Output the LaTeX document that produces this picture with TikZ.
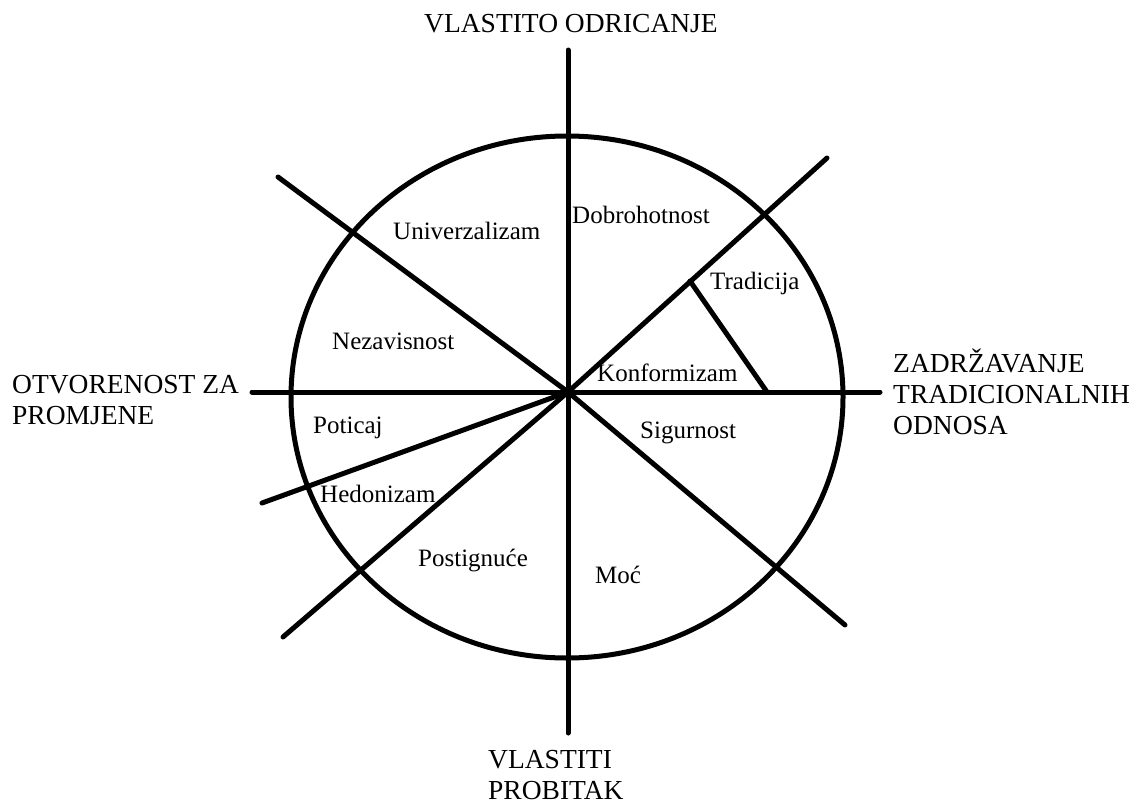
\documentclass[tikz,border=0pt]{standalone}
\usepackage{fontspec}
\setmainfont{Liberation Serif}
\begin{document}
\begin{tikzpicture}[x=1pt,y=-1pt,
  axis/.style={line width=5pt,line cap=round,black},
  lbl/.style={anchor=base west,inner sep=0pt,font=\fontsize{25}{31}\selectfont},
  blk/.style={anchor=base west,inner sep=0pt,align=left,font=\fontsize{27.5}{31}\selectfont}]
\useasboundingbox (0,0) rectangle (1135,803);
% centre and end points
\coordinate (O) at (568,392);
\coordinate (N) at (568,50);
\coordinate (S) at (568,733);
\coordinate (W) at (252,392);
\coordinate (E) at (880,392);
\coordinate (NW) at (278,177);
\coordinate (SE) at (845,625);
\coordinate (NE) at (827,158);
\coordinate (SW) at (283,637);
\coordinate (WSW) at (262,503);
\coordinate (T1) at (690,281);
\coordinate (T2) at (767,392);
% circle
\draw[line width=5pt] (567,397) ellipse [x radius=276, y radius=261];
% axes
\draw[axis] (N) -- (S);
\draw[axis] (W) -- (E);
\draw[axis] (O) -- (NW);
\draw[axis] (O) -- (SE);
\draw[axis] (O) -- (NE);
\draw[axis] (O) -- (SW);
\draw[axis] (O) -- (WSW);
\draw[axis] (T1) -- (T2);
% outer labels
\node[anchor=base,inner sep=0pt,font=\fontsize{27.5}{31}\selectfont] (top) at (571,32) {VLASTITO ODRICANJE};
\node[blk] (left) at (12,424) {OTVORENOST ZA\\PROMJENE};
\node[blk] (right) at (893,434) {ZADRŽAVANJE\\TRADICIONALNIH\\ODNOSA};
\node[blk] (bottom) at (488,799) {VLASTITI\\PROBITAK};
% sector labels
\node[lbl] (uni) at (393,239) {Univerzalizam};
\node[lbl] (dob) at (572,223) {Dobrohotnost};
\node[lbl] (tra) at (710,289) {Tradicija};
\node[lbl] (nez) at (332,349) {Nezavisnost};
\node[lbl] (kon) at (597,381) {Konformizam};
\node[lbl] (sig) at (640,438) {Sigurnost};
\node[lbl] (pot) at (313,433) {Poticaj};
\node[lbl] (hed) at (320,502) {Hedonizam};
\node[lbl] (pos) at (418,566) {Postignuće};
\node[lbl] (moc) at (595,583) {Moć};
\end{tikzpicture}
\end{document}
